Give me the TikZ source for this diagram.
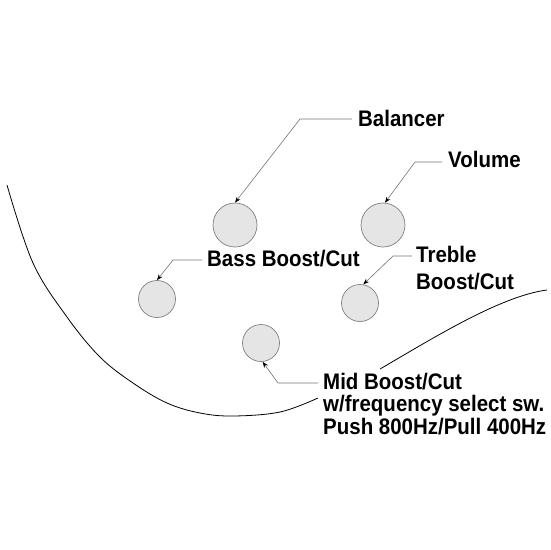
\documentclass[tikz,border=0pt]{standalone}
\usepackage{fontspec}
\setmainfont{Liberation Sans}[FakeStretch=0.91]
\usetikzlibrary{arrows.meta}
\begin{document}
\begin{tikzpicture}[x=1pt,y=-1pt,
  knob/.style={circle, draw=black!50, fill=black!10, line width=0.7pt, minimum size=#1, inner sep=0pt},
  lbl/.style={font=\fontsize{22.5}{22.5}\selectfont\bfseries, anchor=base west, inner sep=0pt, align=left},
  lead/.style={draw=black!55, line width=0.6pt, -{Stealth[length=6pt,width=4.5pt,black]}},
  body/.style={line width=0.8pt, draw=black}]
\useasboundingbox (0,0) rectangle (550,550);

% body outline
\draw[body] plot[smooth, tension=0.6] coordinates {(7,185) (33,263) (67,317) (100,357) (133,383) (167,403) (200,413) (233,416) (280,412) (318,398)};
\draw[body] (547,290) .. controls (500,296) and (430,340) .. (380,369);

% knobs
\node[knob=44pt] (bal) at (235,225) {};
\node[knob=44pt] (vol) at (383,225) {};
\node[knob=37pt] (bass) at (157,299) {};
\node[knob=37pt] (treb) at (360,303) {};
\node[knob=37pt] (mid) at (261,343) {};

% labels (base anchor = baseline of the last line)
\node[lbl] (baltext) at (358,126) {Balancer};
\node[lbl] (voltext) at (448,167.7) {Volume};
\node[lbl] (basstext) at (207,266) {Bass Boost/Cut};
\node[lbl] (trebtext) at (416,289.3) {Treble\\[4pt]Boost/Cut};
\node[lbl] (midtext) at (323,434.3) {Mid Boost/Cut\\w/frequency select sw.\\Push 800Hz/Pull 400Hz};

% leader start points
\coordinate (balS) at (352,119);
\coordinate (volS) at (442,162);
\coordinate (bassS) at (202,260);
\coordinate (trebS) at (412,256);
\coordinate (midS) at (318,383);

\draw[lead] (balS) -- (300,119) -- (bal.north);
\draw[lead] (volS) -- (415,162) -- (vol.85);
\draw[lead] (bassS) -- (173,260) -- (bass.north);
\draw[lead] (trebS) -- (393,256) -- (treb.80);
\draw[lead] (midS) -- (278,383) -- (mid.275);
\end{tikzpicture}
\end{document}
